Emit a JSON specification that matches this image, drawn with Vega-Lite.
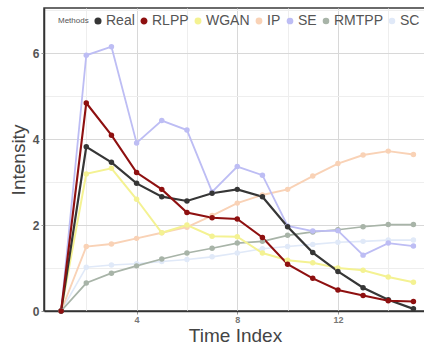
{
  "$schema": "https://vega.github.io/schema/vega-lite/v6.json",
  "width": 382,
  "height": 303,
  "autosize": "none",
  "padding": {"left": 44, "top": 8, "right": 0, "bottom": 34},
  "background": "white",
  "config": {
    "view": {"stroke": "#3a3a3a", "strokeWidth": 1.5},
    "font": "Liberation Sans"
  },
  "datasets": {
    "wide": [
      {"t": 1, "Real": 0, "RLPP": 0, "WGAN": 0, "IP": 0, "SE": 0, "RMTPP": 0, "SC": 0},
      {"t": 2, "Real": 3.82, "RLPP": 4.84, "WGAN": 3.19, "IP": 1.5, "SE": 5.95, "RMTPP": 0.65, "SC": 1.02},
      {"t": 3, "Real": 3.46, "RLPP": 4.09, "WGAN": 3.32, "IP": 1.56, "SE": 6.15, "RMTPP": 0.88, "SC": 1.07},
      {"t": 4, "Real": 2.97, "RLPP": 3.22, "WGAN": 2.6, "IP": 1.69, "SE": 3.91, "RMTPP": 1.05, "SC": 1.1},
      {"t": 5, "Real": 2.66, "RLPP": 2.83, "WGAN": 1.82, "IP": 1.82, "SE": 4.43, "RMTPP": 1.21, "SC": 1.15},
      {"t": 6, "Real": 2.56, "RLPP": 2.29, "WGAN": 2.0, "IP": 1.95, "SE": 4.21, "RMTPP": 1.35, "SC": 1.2},
      {"t": 7, "Real": 2.74, "RLPP": 2.17, "WGAN": 1.74, "IP": 2.22, "SE": 2.77, "RMTPP": 1.46, "SC": 1.26},
      {"t": 8, "Real": 2.83, "RLPP": 2.14, "WGAN": 1.73, "IP": 2.51, "SE": 3.36, "RMTPP": 1.58, "SC": 1.35},
      {"t": 9, "Real": 2.66, "RLPP": 1.71, "WGAN": 1.35, "IP": 2.7, "SE": 3.16, "RMTPP": 1.62, "SC": 1.45},
      {"t": 10, "Real": 1.96, "RLPP": 1.09, "WGAN": 1.18, "IP": 2.83, "SE": 1.98, "RMTPP": 1.76, "SC": 1.5},
      {"t": 11, "Real": 1.36, "RLPP": 0.76, "WGAN": 1.12, "IP": 3.14, "SE": 1.86, "RMTPP": 1.84, "SC": 1.55},
      {"t": 12, "Real": 0.92, "RLPP": 0.49, "WGAN": 1.0, "IP": 3.43, "SE": 1.87, "RMTPP": 1.89, "SC": 1.6},
      {"t": 13, "Real": 0.54, "RLPP": 0.36, "WGAN": 0.95, "IP": 3.63, "SE": 1.3, "RMTPP": 1.96, "SC": 1.62},
      {"t": 14, "Real": 0.26, "RLPP": 0.24, "WGAN": 0.79, "IP": 3.72, "SE": 1.58, "RMTPP": 2.01, "SC": 1.65},
      {"t": 15, "Real": 0.05, "RLPP": 0.22, "WGAN": 0.67, "IP": 3.64, "SE": 1.51, "RMTPP": 2.01, "SC": 1.65}
    ]
  },
  "data": {"name": "wide"},
  "transform": [
    {"fold": ["SC", "IP", "RMTPP", "WGAN", "SE", "Real", "RLPP"], "as": ["method", "value"]}
  ],
  "mark": {"type": "line", "point": {"filled": true, "size": 30}},
  "encoding": {
    "x": {
      "field": "t", "type": "quantitative",
      "scale": {"domain": [0.32, 15.5], "nice": false, "zero": false},
      "axis": {
        "values": [2, 4, 6, 8, 10, 12, 14],
        "labelExpr": "datum.value % 4 == 0 ? datum.label : ''",
        "title": "Time Index",
        "titleFontSize": 19,
        "titleFontWeight": "normal",
        "titleColor": "#444444",
        "titlePadding": 2,
        "labelFontSize": 9,
        "labelFontWeight": "bold",
        "labelColor": "#777777",
        "labelPadding": 1,
        "tickSize": 3,
        "tickColor": "#999999",
        "tickOpacity": {"condition": {"test": "datum.value % 4 == 0", "value": 1}, "value": 0},
        "domainColor": "#333333",
        "domainWidth": 1.5,
        "grid": true,
        "gridColor": {"condition": {"test": "datum.value % 4 == 0", "value": "#d8d8d8"}, "value": "#eeeeee"}
      }
    },
    "y": {
      "field": "value", "type": "quantitative",
      "scale": {"domain": [0, 7.05], "nice": false},
      "axis": {
        "values": [0, 1, 2, 3, 4, 5, 6, 7],
        "labelExpr": "datum.value % 2 == 0 ? datum.label : ''",
        "title": "Intensity",
        "titleFontSize": 19,
        "titleFontWeight": "normal",
        "titleColor": "#444444",
        "titlePadding": 4,
        "labelFontSize": 12,
        "labelFontWeight": "bold",
        "labelColor": "#555555",
        "labelPadding": 2,
        "tickSize": 3,
        "tickColor": "#999999",
        "tickOpacity": {"condition": {"test": "datum.value % 2 == 0", "value": 1}, "value": 0},
        "domainColor": "#333333",
        "domainWidth": 1.5,
        "grid": true,
        "gridColor": {"condition": {"test": "datum.value % 2 == 0", "value": "#d8d8d8"}, "value": "#eeeeee"}
      }
    },
    "color": {
      "field": "method", "type": "nominal",
      "scale": {
        "domain": ["Real", "RLPP", "WGAN", "IP", "SE", "RMTPP", "SC"],
        "range": ["#363636", "#8e1010", "#f4f292", "#f9d2b6", "#bdbdf4", "#a8b4a8", "#e0e9f8"]
      },
      "legend": {
        "orient": "none",
        "legendX": 14,
        "legendY": 6,
        "direction": "horizontal",
        "title": "Methods",
        "titleOrient": "left",
        "titleFontSize": 8,
        "titleFontWeight": "normal",
        "titleColor": "#555555",
        "titlePadding": 2,
        "labelFontSize": 14,
        "labelColor": "#555555",
        "labelOffset": 1,
        "symbolType": "circle",
        "symbolSize": 24,
        "symbolStrokeWidth": 0,
        "columnPadding": 2
      }
    },
    "strokeWidth": {
      "field": "method", "type": "nominal",
      "scale": {
        "domain": ["Real", "RLPP", "WGAN", "IP", "SE", "RMTPP", "SC"],
        "range": [2.2, 1.6, 1.2, 1.2, 1.2, 1.2, 1.2]
      },
      "legend": null
    }
  }
}
